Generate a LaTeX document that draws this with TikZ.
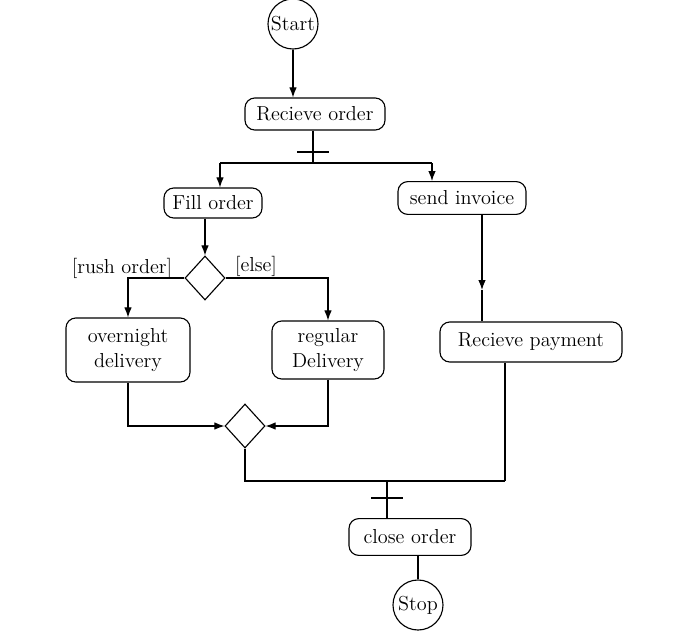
\documentclass[tikz,border=0pt]{standalone}
\usepackage{xcolor}
\usepackage{tikz}
\usetikzlibrary{shapes,arrows,positioning,calc,arrows.meta}

\begin{document}
\begin{tikzpicture}[
    x=0.025cm,
    y=-0.025cm,
    box/.style={
        rectangle,
        draw,
        thick,
        rounded corners=7pt,
        align=center,
        font=\Large
      },
    terminal/.style={circle,draw,thick,minimum size=1.25cm,inner sep=0pt,font=\Large},
    decision/.style={diamond,draw,thick,minimum width=1cm,minimum height=1.1cm,inner sep=0pt},
    bar/.style={rectangle,fill=black,minimum width=0.8cm,minimum height=1.6pt,inner sep=0pt},
    guard/.style={font=\Large},
    arrow/.style={-{Latex[length=2.5mm]},thick},
    line/.style={thick}
    ]
    \useasboundingbox (0,0) rectangle (700,634);

    \node[terminal] (start) at (293,24) {Start};
    \node[box,minimum width=3.5cm,minimum height=0.8cm] (order) at (315,114) {Recieve order};
    \node[bar] (fork) at (313,152) {};
    \coordinate (split) at (313,163);
    \coordinate (forkL) at (220,163);
    \coordinate (forkR) at (432,163);
    \node[box,minimum width=2.45cm,minimum height=0.75cm] (fill) at (213,203) {Fill order};
    \node[box,minimum width=3.2cm,minimum height=0.82cm] (invoice) at (462,198) {send invoice};
    \node[decision] (decide) at (205,278) {};
    \node[guard] (rush) at (122,268) {[rush order]};
    \node[guard] (else) at (256,266) {[else]};
    \node[box,minimum width=3.1cm,minimum height=1.6cm] (overnight) at (128,350) {overnight\\delivery};
    \node[box,minimum width=2.8cm,minimum height=1.45cm] (regular) at (328,350) {regular\\Delivery};
    \coordinate (payarrow) at (482,290);
    \node[box,minimum width=4.55cm,minimum height=1cm] (payment) at (531,342) {Recieve payment};
    \node[decision] (merge) at (245,426) {};
    \coordinate (joinL) at (245,481);
    \coordinate (joinR) at (505,481);
    \coordinate (joinM) at (387,481);
    \node[bar] (join) at (387,498) {};
    \node[box,minimum width=3.05cm,minimum height=0.92cm] (close) at (410,537) {close order};
    \node[terminal] (stop) at (418,605) {Stop};

    \draw[arrow] (start)--(start |- order.north);
    \draw[line] (order.south -| fork)--(fork)--(split);
    \draw[line] (forkL)--(forkR);
    \draw[arrow] (forkL)--(forkL |- fill.north);
    \draw[arrow] (forkR)--(forkR |- invoice.north);
    \draw[arrow] (decide.north |- fill.south)--(decide.north);
    \draw[arrow] (decide.west) -| (overnight.north);
    \draw[arrow] (decide.east) -| (regular.north);
    \draw[arrow] (invoice.south -| payarrow)--(payarrow);
    \draw[line] (payarrow)--(payment.north -| payarrow);
    \draw[arrow] (overnight.south) |- (merge.west);
    \draw[arrow] (regular.south) |- (merge.east);
    \draw[line] (merge.south)--(joinL)--(joinR);
    \draw[line] (payment.south -| joinR)--(joinR);
    \draw[line] (joinM)--(join)--(close.north -| join);
    \draw[line] (close.south -| stop)--(stop);

  \end{tikzpicture}
\end{document}
